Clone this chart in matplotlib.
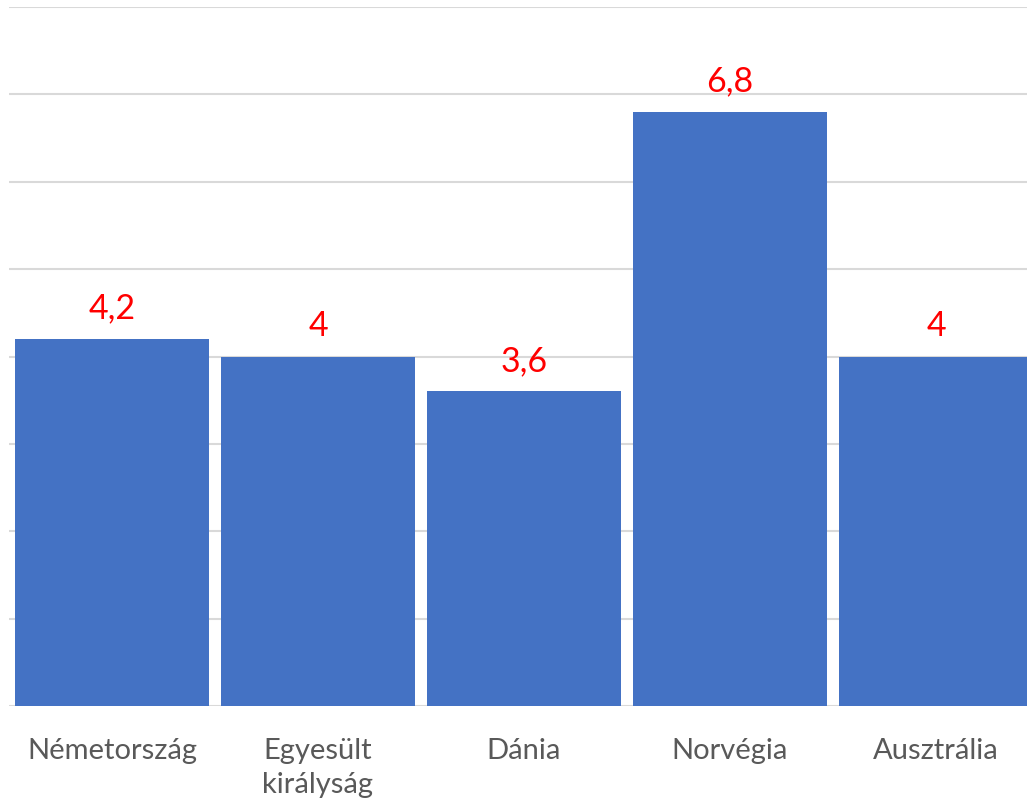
import matplotlib.pyplot as plt

countries = ['Németország', 'Egyesült\nkirályság', 'Dánia', 'Norvégia', 'Ausztrália']
values = [4.2, 4, 3.6, 6.8, 4]
value_labels = ['4,2', '4', '3,6', '6,8', '4']

plt.rcParams['font.family'] = ['Lato', 'DejaVu Sans']

fig = plt.figure(figsize=(10.27, 8.03), dpi=100)
# axes extends past the right edge like in the original
ax = fig.add_axes([9 / 1027, (803 - 707) / 803, 1018 / 1027, 699 / 803])

x = range(len(countries))
bars = ax.bar(x, values, width=194 / 206, color='#4472C4', zorder=2)

for b, lab in zip(bars, value_labels):
    ax.annotate(lab, (b.get_x() + b.get_width() / 2, b.get_height()),
                xytext=(0, 11), textcoords='offset points',
                ha='center', va='bottom', color='red', fontsize=24.5)

ax.set_xlim(-0.5, -0.5 + 1018 / 206)
ax.set_ylim(0, 8)
ax.set_yticks(range(0, 9))
ax.yaxis.grid(True, color='#D9D9D9', linewidth=1.5, zorder=0)
ax.tick_params(axis='y', left=False, labelleft=False)
ax.set_xticks(list(x))
ax.set_xticklabels(countries, color='#595959', fontsize=21, linespacing=1.4)
ax.tick_params(axis='x', length=0, pad=22)
for s in ax.spines.values():
    s.set_visible(False)

plt.savefig('out.png', dpi=100)
